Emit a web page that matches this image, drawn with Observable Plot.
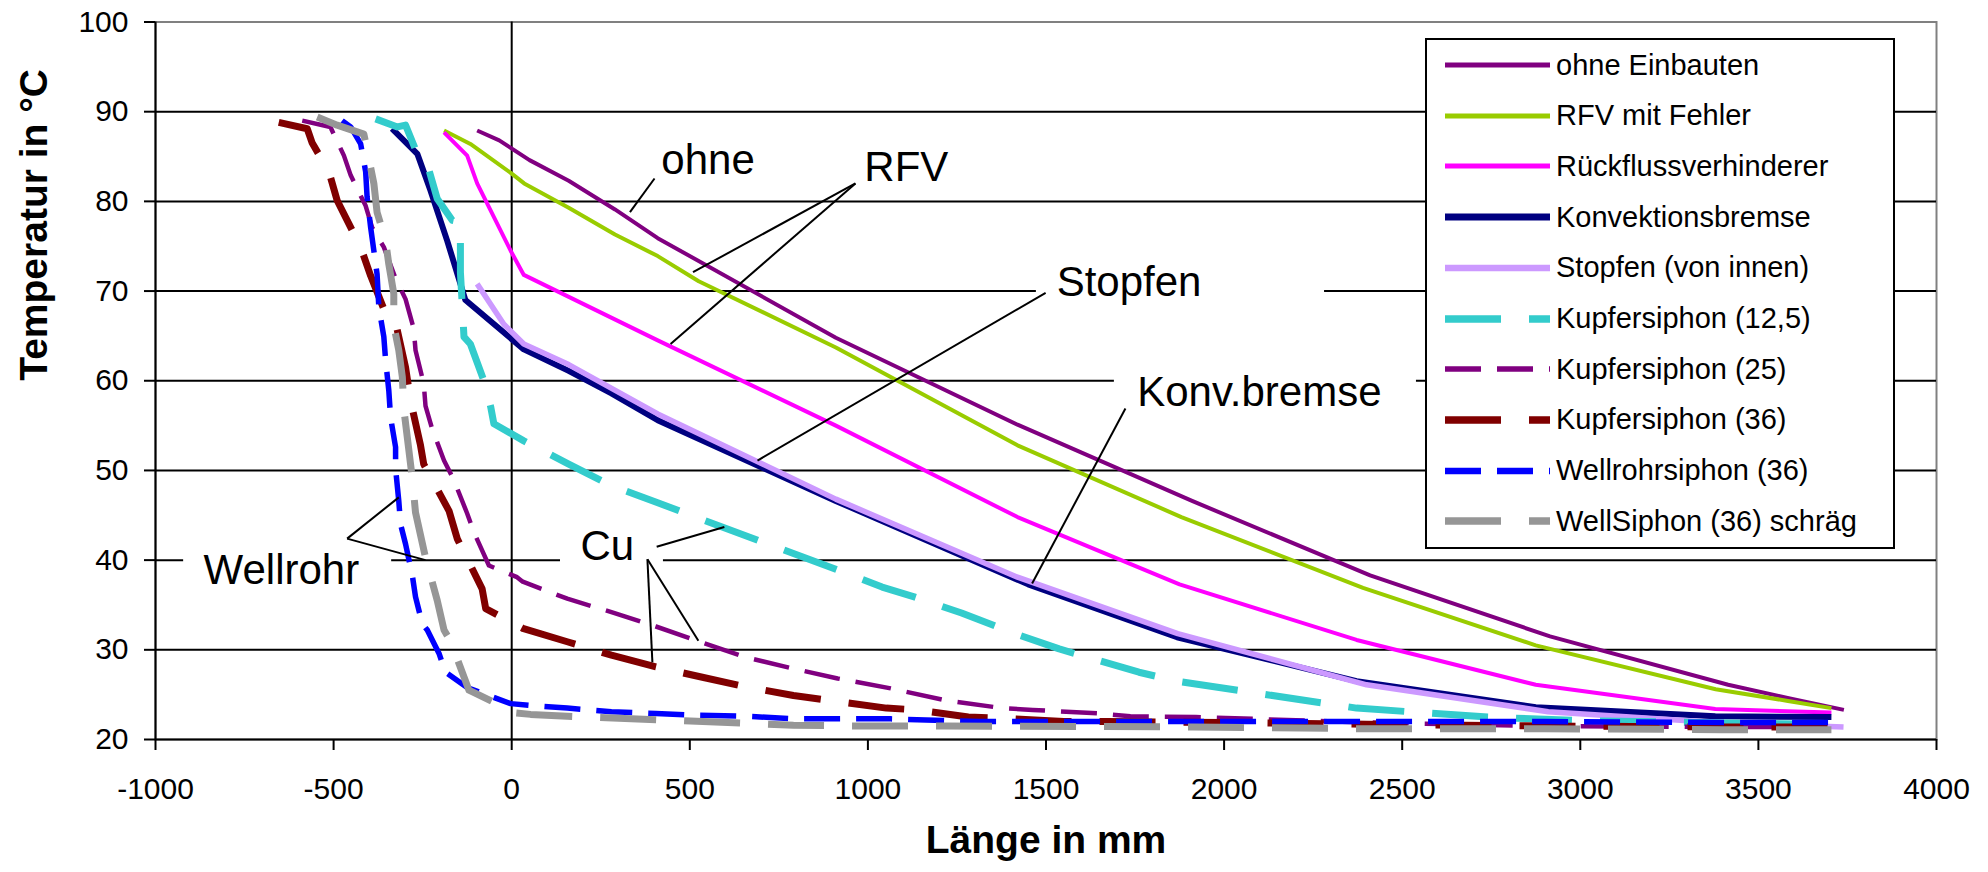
<!DOCTYPE html>
<html><head><meta charset="utf-8">
<script src="https://cdn.jsdelivr.net/npm/d3@7"></script>
<script src="https://cdn.jsdelivr.net/npm/@observablehq/plot@0.6"></script>
<style>
html,body{margin:0;padding:0;background:#fff;}
#wrap{position:relative;width:1988px;height:872px;font-family:"Liberation Sans",Arial,sans-serif;color:#000;}
#legend{position:absolute;left:1425px;top:38px;width:466px;height:507px;border:2px solid #000;background:#fff;}
.row{position:absolute;left:18px;height:50px;display:flex;align-items:center;font-size:29px;white-space:nowrap;}
.row svg{margin-right:6px;}
</style></head><body><div id="wrap"></div>
<script>
// ---- axis ticks ----
const xTicks = [-1000, -500, 0, 500, 1000, 1500, 2000, 2500, 3000, 3500, 4000];
const yTicks = [20, 30, 40, 50, 60, 70, 80, 90, 100];
const gridY = [30, 40, 50, 60, 70, 80, 90];

// ---- series names ----
const seriesNames = ["ohne Einbauten", "RFV mit Fehler", "Rückflussverhinderer", "Konvektionsbremse",
  "Stopfen (von innen)", "Kupfersiphon (12,5)", "Kupfersiphon (25)", "Kupfersiphon (36)",
  "Wellrohrsiphon (36)", "WellSiphon (36) schräg"];

// ---- series values [Länge mm, Temperatur °C] ----
const ohneEinbauten = [[-97,87.9],[-35,86.8],[50,84.6],[160,82.3],[290,79.1],[410,75.9],[910,64.8],[1420,55.1],[1910,46.6],[2410,38.3],[2915,31.5],[3415,26.1],[3585,24.6],[3740,23.3]];
const rfvMitFehler = [[-190,87.9],[-116,86.4],[0,83.1],[35,82.0],[160,79.3],[290,76.3],[410,73.9],[525,71.1],[910,63.7],[1420,52.8],[1880,44.8],[2390,36.9],[2875,30.5],[3380,25.6],[3583,24.3],[3705,23.5]];
const rueckfluss = [[-190,87.7],[-125,85.1],[-97,82.0],[-3,74.5],[34,71.8],[410,64.5],[910,55.0],[1420,44.8],[1875,37.3],[2372,31.1],[2875,26.1],[3379,23.4],[3705,23.0]];
const konvBremse = [[-336,88.1],[-265,85.3],[-228,81.2],[-181,75.6],[-130,69.0],[34,63.5],[160,61.1],[280,58.6],[410,55.6],[910,46.6],[1450,37.3],[1868,31.4],[2372,26.5],[2875,23.6],[3379,22.6],[3705,22.5]];
const stopfen = [[-97,70.8],[-22,66.3],[34,64.1],[160,61.8],[410,56.3],[910,46.8],[1420,38.1],[1870,31.8],[2400,26.1],[2910,23.1],[3379,21.9],[3739,21.4]];
const kupfer125 = [[-382,89.2],[-321,88.3],[-298,88.5],[-265,85.3],[-233,83.6],[-209,80.3],[-167,77.9],[-144,77.7],[-144,72.1],[-139,68.6],[-134,64.9],[-116,64.1],[-78,60.0],[-59,57.1],[-50,55.2],[34,53.3],[160,50.7],[280,48.3],[410,46.4],[530,44.6],[915,38.9],[1040,37.0],[1130,35.9],[1263,34.1],[1413,31.8],[1537,30.1],[1761,27.5],[1868,26.5],[2372,23.5],[2740,22.5],[3000,22.1],[3490,21.8],[3705,21.7]];
const kupfer25 = [[-588,89.0],[-509,88.3],[-471,85.1],[-452,82.9],[-410,79.5],[-392,77.1],[-359,74.9],[-326,71.4],[-298,69.1],[-275,65.8],[-270,63.4],[-247,59.7],[-242,57.2],[-223,54.6],[-190,51.1],[-162,48.9],[-125,45.2],[-106,43.1],[-64,39.4],[15,38.1],[31,37.6],[156,35.7],[280,34.2],[405,32.6],[529,30.9],[654,29.2],[791,27.9],[915,26.8],[1064,25.7],[1214,24.4],[1376,23.5],[1463,23.3],[1650,22.9],[1737,22.6],[1921,22.5],[2400,21.9],[2900,21.5],[3400,21.4],[3700,21.4]];
const kupfer36 = [[-654,88.8],[-574,88.1],[-560,86.5],[-513,83.3],[-490,80.1],[-424,74.9],[-396,71.7],[-350,67.1],[-326,66.5],[-298,61.5],[-284,57.8],[-256,52.8],[-247,50.7],[-176,45.5],[-153,42.4],[-83,36.8],[-73,34.6],[31,32.4],[156,30.9],[280,29.4],[405,28.1],[529,27.0],[654,25.9],[791,24.9],[884,24.4],[1052,23.5],[1140,23.3],[1282,22.5],[1369,22.4],[1550,22.0],[1674,22.0],[2000,21.9],[2400,21.7],[2900,21.5],[3400,21.4],[3700,21.4]];
const wellrohr36 = [[-476,89.0],[-452,88.3],[-424,86.4],[-410,83.3],[-406,80.5],[-396,77.1],[-387,74.5],[-378,71.9],[-373,68.2],[-359,64.9],[-354,62.3],[-345,58.9],[-340,55.9],[-326,52.6],[-326,50.2],[-317,46.6],[-312,44.0],[-298,41.8],[-279,38.3],[-270,35.9],[-251,32.9],[-237,32.2],[-204,29.6],[-186,27.5],[-125,25.8],[-3,24.0],[53,23.8],[156,23.5],[280,23.1],[405,22.9],[529,22.7],[654,22.6],[803,22.3],[1064,22.3],[1313,22.0],[1921,22.0],[2400,22.0],[2900,22.0],[3400,21.9],[3705,21.9]];
const wellSchraeg = [[-546,89.4],[-490,88.5],[-415,87.5],[-387,82.0],[-378,78.8],[-354,75.6],[-345,73.0],[-331,69.7],[-331,66.2],[-317,63.4],[-307,60.4],[-303,56.9],[-279,49.1],[-270,45.3],[-242,40.3],[-209,35.5],[-190,32.2],[-172,31.0],[-120,25.5],[-22,23.6],[-3,23.0],[53,22.8],[156,22.6],[405,22.2],[791,21.6],[965,21.5],[1214,21.5],[1911,21.4],[2400,21.2],[2900,21.2],[3400,21.1],[3705,21.1]];

const seriesData = [ohneEinbauten, rfvMitFehler, rueckfluss, konvBremse, stopfen, kupfer125, kupfer25, kupfer36, wellrohr36, wellSchraeg];

// ---- colours and line styles ----
const seriesColors = ["#800080", "#99CC00", "#FF00FF", "#000080", "#CC99FF", "#33CCCC", "#800080", "#800000", "#0000FF", "#969696"];
const seriesWidths = [4, 4, 4, 6, 5.5, 7, 4.5, 7, 5.5, 7];
const longDash = "56,28", shortDash = "36,16";
const seriesDashes = [null, null, null, null, null, longDash, shortDash, longDash, shortDash, longDash];

// ---- annotations (data coordinates) ----
const labelTexts = ["ohne", "RFV", "Stopfen", "Konv.bremse", "Wellrohr", "Cu"];
const labelX = [420, 990, 1530, 1756, -865, 193];
const labelY = [84.6, 83.8, 71.0, 58.7, 38.8, 41.5];
const labels = labelTexts.map((t, i) => ({text: t, x: labelX[i], y: labelY[i]}));

const labelBoxes = [
  {x1: 1473, x2: 2282, y1: 68.9, y2: 73.2},
  {x1: 1692, x2: 2540, y1: 56.7, y2: 61.1},
  {x1: -921, x2: -337, y1: 36.6, y2: 41.3},
  {x1: 137, x2: 426, y1: 39.7, y2: 43.3}
];

const leaders = [
  {x1: 332, y1: 78.8, x2: 401, y2: 82.55},
  {x1: 965, y1: 82.0, x2: 509, y2: 72.1},
  {x1: 965, y1: 82.0, x2: 446, y2: 64.1},
  {x1: 1499, y1: 69.8, x2: 690, y2: 51.1},
  {x1: 1723, y1: 56.9, x2: 1461, y2: 37.4},
  {x1: -462, y1: 42.4, x2: -317, y2: 47.0},
  {x1: -462, y1: 42.4, x2: -242, y2: 40.0},
  {x1: 407, y1: 41.5, x2: 597, y2: 43.7},
  {x1: 381, y1: 40.1, x2: 395, y2: 28.6},
  {x1: 381, y1: 40.1, x2: 524, y2: 31.0}
];

const lineMarks = seriesData.map((data, i) => Plot.line(data, {
  x: d => d[0], y: d => d[1],
  stroke: seriesColors[i], strokeWidth: seriesWidths[i],
  strokeDasharray: seriesDashes[i] || undefined,
  strokeLinecap: "butt", strokeLinejoin: "round"
}));

const plot = Plot.plot({
  width: 1988, height: 872,
  marginLeft: 155, marginRight: 52, marginTop: 21.5, marginBottom: 133,
  x: {domain: [-1000, 4000]},
  y: {domain: [20, 100]},
  style: {fontFamily: '"Liberation Sans", Arial, sans-serif', background: "white", color: "black", overflow: "visible"},
  marks: [
    Plot.frame({stroke: "#808080", strokeWidth: 2}),
    Plot.ruleY(gridY, {stroke: "#000", strokeWidth: 2}),
    Plot.ruleX([0], {stroke: "#000", strokeWidth: 2}),
    Plot.rect(labelBoxes, {x1: "x1", x2: "x2", y1: "y1", y2: "y2", fill: "white"}),
    ...lineMarks,
    Plot.link(leaders, {x1: "x1", y1: "y1", x2: "x2", y2: "y2", stroke: "#000", strokeWidth: 2}),
    Plot.text(labels, {x: "x", y: "y", text: "text", textAnchor: "start", fontSize: 42, fill: "#000"}),
    Plot.ruleX([-1000], {stroke: "#000", strokeWidth: 2}),
    Plot.ruleY([20], {stroke: "#000", strokeWidth: 2}),
    Plot.axisX({ticks: xTicks, tickSize: 11, tickPadding: 27, fontSize: 30, tickFormat: d => String(d), label: null, strokeWidth: 2}),
    Plot.axisY({ticks: yTicks, tickSize: 11, tickPadding: 16, fontSize: 30, tickFormat: d => String(d), label: null, strokeWidth: 2}),
    Plot.text(["Länge in mm"], {frameAnchor: "bottom", dy: 113, fontSize: 39, fontWeight: "bold", fill: "#000"}),
    Plot.text(["Temperatur in °C"], {frameAnchor: "left", dx: -121, rotate: -90, fontSize: 39, fontWeight: "bold", fill: "#000"})
  ]
});

const wrap = document.getElementById("wrap");
wrap.appendChild(plot);

// ---- legend (inside the plot area, upper right) ----
const legend = document.createElement("div");
legend.id = "legend";
seriesNames.forEach((name, i) => {
  const row = document.createElement("div");
  row.className = "row";
  row.style.top = (i * 50.7) + "px";
  const dash = seriesDashes[i] ? ` stroke-dasharray="${seriesDashes[i]}"` : "";
  row.innerHTML = `<svg width="105" height="12"><line x1="0" y1="6" x2="105" y2="6" stroke="${seriesColors[i]}" stroke-width="${Math.min(seriesWidths[i] + 1, 7.5)}"${dash}/></svg><span>${name}</span>`;
  legend.appendChild(row);
});
wrap.appendChild(legend);
</script></body></html>
